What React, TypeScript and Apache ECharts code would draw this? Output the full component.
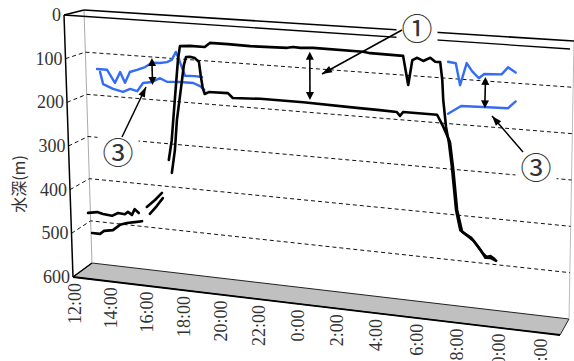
import React, { useEffect, useRef } from "react";
import * as echarts from "echarts";

// ---------------- data ----------------
// time is given in hours after 12:00 (0 = 12:00, 12 = 0:00, 24 = 12:00 next day)
const TIME_MAX = 25;
const DEPTH_MAX = 600;
const DEPTH_TICKS = [0, 100, 200, 300, 400, 500, 600];
const TIME_TICKS = [0, 2, 4, 6, 8, 10, 12, 14, 16, 18, 20, 22, 24];
const TIME_LABELS = ["12:00", "14:00", "16:00", "18:00", "20:00", "22:00", "0:00", "2:00", "4:00", "6:00", "8:00", "10:00", "12:00"];
const DEPTH_TITLE = "水深(m)";

type Pt = [number, number] | null;

// black: upper boundary of the scattering layer (null = gap)
const layerUpper: Pt[] = [
  [0.42, 465], [0.93, 461], [1.26, 464], [1.76, 466], [2.1, 458], [2.48, 459], [2.65, 453], [2.87, 459], [3.03, 445], [3.25, 453],
  null,
  [3.7, 437], [4.16, 419], [4.55, 401],
  null,
  [4.96, 324], [5.14, 278], [5.35, 185], [5.56, 93], [5.68, 61], [6.21, 59], [6.99, 59], [7.26, 49], [8.2, 49], [9.35, 50],
  [11.25, 48], [11.56, 45], [11.92, 46], [12.57, 44], [15.07, 45], [15.42, 47], [17.03, 48], [17.29, 111], [17.48, 56],
  [17.72, 50], [18.01, 56], [18.35, 48], [18.59, 56], [18.83, 56], [18.94, 94], [19.0, 138], [19.15, 196], [19.3, 230],
  [19.46, 282], [19.69, 374], [19.91, 417], [20.15, 424], [20.45, 431], [20.75, 447], [21.0, 461], [21.2, 469], [21.39, 466], [21.58, 471],
];

// black: lower boundary of the scattering layer
const layerLower: Pt[] = [
  [0.61, 511], [1.06, 511], [1.29, 503], [1.79, 499], [2.19, 485], [2.58, 479], [3.02, 475], [3.42, 471],
  null,
  [3.86, 452], [4.26, 432], [4.59, 413],
  null,
  [5.11, 353], [5.3, 300], [5.44, 231], [5.68, 161], [5.87, 104], [5.99, 85], [6.19, 84], [6.46, 86], [6.67, 94], [6.75, 124],
  [6.85, 153], [6.95, 166], [7.16, 161], [8.17, 160], [8.42, 170], [9.85, 167], [12.06, 167], [14.76, 170], [15.9, 171],
  [16.74, 172], [16.9, 180], [17.05, 171], [18.71, 171], [18.97, 192], [19.35, 228], [19.53, 288], [19.74, 374], [20.0, 420],
  [20.27, 428], [20.56, 437], [20.9, 455], [21.15, 471], [21.39, 470], [21.67, 475],
];

// blue: shallow layer, afternoon (upper / lower boundary)
const blueDayUpper: Pt[] = [
  [1.17, 128], [1.72, 128], [2.13, 157], [2.43, 131], [2.68, 155], [2.96, 129], [3.35, 123], [3.79, 115], [4.17, 104],
  [4.59, 103], [4.97, 100], [5.23, 94], [5.46, 75], [5.66, 97], [5.92, 128], [6.45, 127], [6.82, 128],
];
const blueDayLower: Pt[] = [
  [1.33, 134], [1.48, 162], [2.02, 171], [2.56, 176], [2.95, 168], [3.33, 172], [3.66, 152], [4.15, 148], [4.58, 138],
  [4.95, 145], [5.65, 143], [6.35, 143], [6.71, 149], [6.93, 157],
];
// blue: shallow layer, morning
const blueMorningUpper: Pt[] = [
  [19.21, 54], [19.58, 56], [19.8, 103], [20.1, 54], [20.37, 71], [20.69, 85], [20.94, 75], [21.76, 73], [22.06, 57], [22.42, 67],
];
const blueMorningLower: Pt[] = [
  [19.24, 167], [19.86, 148], [21.14, 146], [22.09, 145], [22.45, 129],
];

// layer thickness markers: [time, top depth, bottom depth]
const thicknessArrows: [number, number, number][] = [
  [4.17, 93, 155],
  [12.4, 53, 161],
  [21.0, 81, 149],
];

// ---------------- pseudo-3D box geometry (layout) ----------------
const FRONT: Record<string, [number, number]> = { tl: [64, 15], tr: [570, 49], bl: [73, 277], br: [560, 335] };
const BACK: Record<string, [number, number]> = { tl: [84, 10], tr: [574, 41], bl: [92, 263], br: [569, 319] };
const PERSP = 1.095;
const DATA_Z = 0.5;

function corner(k: string, z: number): [number, number] {
  const f = FRONT[k], b = BACK[k];
  return [f[0] + (b[0] - f[0]) * z, f[1] + (b[1] - f[1]) * z];
}
function project(u: number, v: number, z: number): [number, number] {
  const p = u / (PERSP - (PERSP - 1) * u);
  const tl = corner("tl", z), tr = corner("tr", z), bl = corner("bl", z), br = corner("br", z);
  const lx = tl[0] + (bl[0] - tl[0]) * v, ly = tl[1] + (bl[1] - tl[1]) * v;
  const rx = tr[0] + (br[0] - tr[0]) * v, ry = tr[1] + (br[1] - tr[1]) * v;
  return [lx + (rx - lx) * p, ly + (ry - ly) * p];
}
function toUV(api: any, cs: any, t: number, d: number): [number, number] {
  const c = api.coord([t, d]);
  return [(c[0] - cs.x) / cs.width, (c[1] - cs.y) / cs.height];
}
function head(tip: number[], from: number[], len: number, half: number): number[][] {
  const dx = tip[0] - from[0], dy = tip[1] - from[1];
  const L = Math.hypot(dx, dy) || 1;
  const ux = dx / L, uy = dy / L;
  const bx = tip[0] - ux * len, by = tip[1] - uy * len;
  return [[tip[0], tip[1]], [bx - uy * half, by + ux * half], [bx + uy * half, by - ux * half]];
}

const SERIF = "Liberation Serif";
const BLUE = "#356cf6";

function lineSeries(name: string, pts: Pt[], color: string, width: number) {
  return {
    type: "custom",
    name,
    coordinateSystem: "cartesian2d",
    silent: true,
    z: 3,
    data: pts.filter((p) => p !== null),
    renderItem: (params: any, api: any) => {
      if (params.dataIndex !== 0) return null;
      const cs = params.coordSys;
      const segs: number[][][] = [];
      let cur: number[][] = [];
      for (const p of pts) {
        if (!p) {
          if (cur.length > 1) segs.push(cur);
          cur = [];
          continue;
        }
        const [u, v] = toUV(api, cs, p[0], p[1]);
        cur.push(project(u, v, DATA_Z));
      }
      if (cur.length > 1) segs.push(cur);
      return {
        type: "group",
        children: segs.map((s) => ({
          type: "polyline",
          shape: { points: s },
          style: { stroke: color, lineWidth: width, fill: "none", lineJoin: "round", lineCap: "round" },
        })),
      };
    },
  };
}

function frameSeries() {
  return {
    type: "custom",
    name: "frame",
    coordinateSystem: "cartesian2d",
    silent: true,
    z: 1,
    data: [[0, 0]],
    renderItem: (params: any, api: any) => {
      const cs = params.coordSys;
      const ch: any[] = [];
      const L = (a: number[], b: number[], style: any) =>
        ch.push({ type: "line", shape: { x1: a[0], y1: a[1], x2: b[0], y2: b[1] }, style });
      ch.push({
        type: "polygon",
        shape: { points: [project(0, 1, 0), project(0, 1, 1), project(1, 1, 1), project(1, 1, 0)] },
        style: { fill: "#c0c0c0", stroke: "#222", lineWidth: 1 },
      });
      L(project(0, 1, 0), project(1, 1, 0), { stroke: "#000", lineWidth: 1.8 });
      L(project(0, 0, 1), project(0, 1, 1), { stroke: "#aaa", lineWidth: 1 });
      L(project(1, 0, 1), project(1, 1, 1), { stroke: "#bbb", lineWidth: 1 });
      for (const d of DEPTH_TICKS) {
        if (d <= 0 || d >= DEPTH_MAX) continue;
        const v = toUV(api, cs, 0, d)[1];
        ch.push({
          type: "polyline",
          shape: { points: [project(0, v, 0), project(0, v, 1), project(1, v, 1)] },
          style: { stroke: "#111", lineWidth: 1, lineDash: [4, 3], fill: "none" },
        });
      }
      L(project(0, 0, 1), project(1, 0, 1), { stroke: "#000", lineWidth: 1.6 });
      L(project(0, 0, 0), project(1, 0, 0), { stroke: "#000", lineWidth: 1.3 });
      L(project(0, 0, 0), project(0, 0, 1), { stroke: "#000", lineWidth: 1.3 });
      L(project(0, 1, 0), project(0, 1, 1), { stroke: "#000", lineWidth: 1.3 });
      L(project(0, 0, 0), project(0, 1, 0), { stroke: "#000", lineWidth: 1.5 });
      return { type: "group", children: ch };
    },
  };
}

// texts placed through the same projection, as graphic elements
function buildTexts(chart: any) {
  const grid = { x: 0, y: 0, w: 574, h: 361 };
  const uv = (t: number, d: number) => {
    const c = chart.convertToPixel({ gridIndex: 0 }, [t, d]);
    return [(c[0] - grid.x) / grid.w, (c[1] - grid.y) / grid.h];
  };
  const els: any[] = [];
  for (const d of DEPTH_TICKS) {
    const v = uv(0, d)[1];
    const pt = project(0, v, 0);
    els.push({
      type: "text",
      x: pt[0] - 3,
      y: pt[1],
      z: 20,
      silent: true,
      style: { text: String(d), fontSize: 18, fontFamily: SERIF, fill: "#333", align: "right", verticalAlign: "middle" },
    });
  }
  TIME_TICKS.forEach((t, i) => {
    const u = uv(t, DEPTH_MAX)[0];
    const pt = project(u, 1, 0);
    els.push({
      type: "text",
      x: pt[0] + 2,
      y: pt[1] + 6,
      rotation: Math.PI / 2,
      z: 20,
      silent: true,
      style: { text: TIME_LABELS[i], fontSize: 18, fontFamily: SERIF, fill: "#333", align: "right", verticalAlign: "middle" },
    });
  });
  els.push({
    type: "text",
    x: 18,
    y: 184,
    rotation: Math.PI / 2,
    z: 20,
    silent: true,
    style: { text: DEPTH_TITLE, fontSize: 16, fontFamily: "Noto Sans CJK JP", fill: "#333", align: "center", verticalAlign: "middle" },
  });
  return els;
}

function arrowSeries() {
  return {
    type: "custom",
    name: "thickness",
    coordinateSystem: "cartesian2d",
    silent: true,
    z: 4,
    data: thicknessArrows,
    renderItem: (params: any, api: any) => {
      const cs = params.coordSys;
      const t = api.value(0), d1 = api.value(1), d2 = api.value(2);
      const a = toUV(api, cs, t, d1), b = toUV(api, cs, t, d2);
      const pa = project(a[0], a[1], DATA_Z), pb = project(b[0], b[1], DATA_Z);
      return {
        type: "group",
        children: [
          { type: "line", shape: { x1: pa[0], y1: pa[1] + 4, x2: pb[0], y2: pb[1] - 4 }, style: { stroke: "#000", lineWidth: 1.6 } },
          { type: "polygon", shape: { points: head(pa, pb, 8, 4) }, style: { fill: "#000" } },
          { type: "polygon", shape: { points: head(pb, pa, 8, 4) }, style: { fill: "#000" } },
        ],
      };
    },
  };
}

function note(text: string, x: number, y: number) {
  return {
    type: "text",
    x,
    y,
    z: 50,
    silent: true,
    style: {
      text,
      fontSize: 31,
      fontFamily: "Noto Sans CJK JP",
      fill: "#333",
      align: "center",
      verticalAlign: "middle",
      backgroundColor: "#fff",
      padding: [2, 5],
    },
  };
}
function pointer(x1: number, y1: number, x2: number, y2: number) {
  return [
    { type: "line", z: 51, silent: true, shape: { x1, y1, x2, y2 }, style: { stroke: "#000", lineWidth: 1.5 } },
    { type: "polygon", z: 51, silent: true, shape: { points: head([x2, y2], [x1, y1], 10, 3.5) }, style: { fill: "#000" } },
  ];
}

export default function App() {
  const ref = useRef<HTMLDivElement>(null);
  useEffect(() => {
    if (!ref.current) return;
    const chart = echarts.init(ref.current, undefined, { renderer: "svg" });
    const notes = [
      note("①", 417, 26),
      note("③", 118, 150),
      note("③", 536, 165),
      ...pointer(402, 30, 322, 74),
      ...pointer(122, 137, 146, 87),
      ...pointer(523, 152, 492, 116),
    ];
    chart.setOption({
      animation: false,
      backgroundColor: "#fff",
      grid: { left: 0, right: 0, top: 0, bottom: 0, containLabel: false },
      xAxis: { type: "value", min: 0, max: TIME_MAX, show: false },
      yAxis: { type: "value", min: 0, max: DEPTH_MAX, inverse: true, show: false },
      series: [
        frameSeries(),
        lineSeries("blueDayUpper", blueDayUpper, BLUE, 2.4),
        lineSeries("blueDayLower", blueDayLower, BLUE, 2.4),
        lineSeries("blueMorningUpper", blueMorningUpper, BLUE, 2.4),
        lineSeries("blueMorningLower", blueMorningLower, BLUE, 2.4),
        lineSeries("layerUpper", layerUpper, "#000", 2.6),
        lineSeries("layerLower", layerLower, "#000", 2.6),
        arrowSeries(),
      ],
      graphic: { elements: notes },
    });
    chart.setOption({ graphic: { elements: [...notes, ...buildTexts(chart)] } }, { replaceMerge: ["graphic"] });
    return () => chart.dispose();
  }, []);
  return <div ref={ref} style={{ position: "absolute", left: 0, top: 0, width: 574, height: 361 }} />;
}
